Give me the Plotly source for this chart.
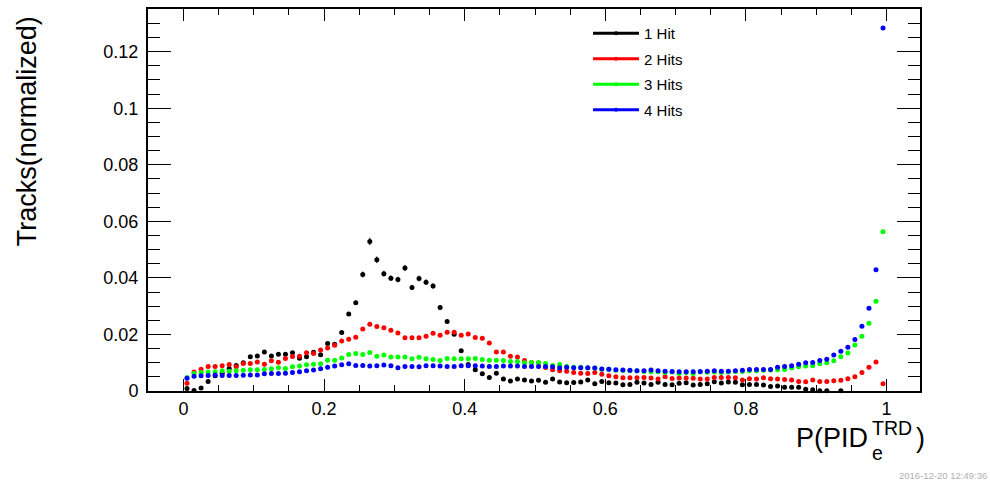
import numpy as np
import plotly.graph_objects as go

# ---------------- data ----------------
n_bins = 100
bin_centers = (np.arange(n_bins) + 0.5) / n_bins

hits1 = [0.0009, 0.0002, 0.0011, 0.0034, 0.0054, 0.0063, 0.0080, 0.0090, 0.0100, 0.0121,
         0.0124, 0.0138, 0.0124, 0.0130, 0.0130, 0.0135, 0.0116, 0.0121, 0.0137, 0.0128,
         0.0168, 0.0165, 0.0207, 0.0272, 0.0312, 0.0412, 0.0529, 0.0464, 0.0415, 0.0399,
         0.0394, 0.0435, 0.0366, 0.0398, 0.0385, 0.0371, 0.0295, 0.0246, 0.0201, 0.0142,
         0.0094, 0.0075, 0.0061, 0.0048, 0.0063, 0.0042, 0.0035, 0.0042, 0.0039, 0.0035,
         0.0038, 0.0031, 0.0042, 0.0032, 0.0029, 0.0030, 0.0032, 0.0039, 0.0026, 0.0034,
         0.0029, 0.0028, 0.0022, 0.0023, 0.0031, 0.0028, 0.0023, 0.0031, 0.0023, 0.0022,
         0.0027, 0.0029, 0.0021, 0.0023, 0.0026, 0.0033, 0.0028, 0.0032, 0.0031, 0.0022,
         0.0023, 0.0023, 0.0021, 0.0016, 0.0018, 0.0013, 0.0013, 0.0013, 0.0006, 0.0004,
         0.0001, 0.0001, None, 0.0001, None, None, None, None, None, None]

hits2 = [0.0027, 0.0067, 0.0077, 0.0087, 0.0087, 0.0089, 0.0094, 0.0086, 0.0097, 0.0097,
         0.0103, 0.0095, 0.0107, 0.0102, 0.0115, 0.0122, 0.0123, 0.0135, 0.0133, 0.0145,
         0.0152, 0.0162, 0.0177, 0.0183, 0.0190, 0.0219, 0.0236, 0.0228, 0.0224, 0.0215,
         0.0205, 0.0188, 0.0188, 0.0188, 0.0194, 0.0204, 0.0197, 0.0208, 0.0208, 0.0197,
         0.0202, 0.0189, 0.0187, 0.0170, 0.0138, 0.0138, 0.0123, 0.0120, 0.0108, 0.0101,
         0.0100, 0.0083, 0.0075, 0.0072, 0.0070, 0.0065, 0.0063, 0.0062, 0.0065, 0.0059,
         0.0054, 0.0050, 0.0047, 0.0047, 0.0047, 0.0048, 0.0046, 0.0042, 0.0050, 0.0044,
         0.0046, 0.0046, 0.0045, 0.0042, 0.0042, 0.0048, 0.0048, 0.0048, 0.0047, 0.0039,
         0.0043, 0.0042, 0.0047, 0.0043, 0.0042, 0.0041, 0.0039, 0.0034, 0.0033, 0.0039,
         0.0034, 0.0034, 0.0036, 0.0038, 0.0043, 0.0050, 0.0065, 0.0084, 0.0103, 0.0026]

hits3 = [0.0048, 0.0062, 0.0065, 0.0067, 0.0068, 0.0072, 0.0070, 0.0072, 0.0073, 0.0075,
         0.0075, 0.0076, 0.0079, 0.0082, 0.0080, 0.0086, 0.0088, 0.0093, 0.0095, 0.0096,
         0.0109, 0.0109, 0.0117, 0.0129, 0.0133, 0.0129, 0.0136, 0.0123, 0.0127, 0.0120,
         0.0120, 0.0120, 0.0114, 0.0119, 0.0114, 0.0111, 0.0108, 0.0115, 0.0114, 0.0114,
         0.0114, 0.0115, 0.0111, 0.0109, 0.0109, 0.0108, 0.0104, 0.0104, 0.0100, 0.0101,
         0.0101, 0.0097, 0.0090, 0.0094, 0.0087, 0.0084, 0.0084, 0.0081, 0.0081, 0.0077,
         0.0077, 0.0073, 0.0073, 0.0072, 0.0072, 0.0069, 0.0068, 0.0068, 0.0065, 0.0067,
         0.0062, 0.0065, 0.0062, 0.0067, 0.0066, 0.0067, 0.0065, 0.0067, 0.0069, 0.0069,
         0.0072, 0.0072, 0.0073, 0.0074, 0.0075, 0.0076, 0.0081, 0.0086, 0.0088, 0.0089,
         0.0096, 0.0100, 0.0107, 0.0121, 0.0134, 0.0163, 0.0194, 0.0240, 0.0317, 0.0563]

hits4 = [0.0045, 0.0052, 0.0054, 0.0055, 0.0057, 0.0055, 0.0055, 0.0055, 0.0056, 0.0057,
         0.0057, 0.0061, 0.0062, 0.0062, 0.0063, 0.0065, 0.0068, 0.0072, 0.0074, 0.0079,
         0.0084, 0.0088, 0.0093, 0.0096, 0.0090, 0.0090, 0.0088, 0.0089, 0.0092, 0.0089,
         0.0082, 0.0087, 0.0087, 0.0086, 0.0089, 0.0089, 0.0088, 0.0087, 0.0087, 0.0089,
         0.0089, 0.0089, 0.0088, 0.0087, 0.0087, 0.0088, 0.0088, 0.0088, 0.0087, 0.0087,
         0.0087, 0.0087, 0.0086, 0.0082, 0.0084, 0.0082, 0.0082, 0.0082, 0.0081, 0.0078,
         0.0077, 0.0075, 0.0074, 0.0073, 0.0072, 0.0072, 0.0074, 0.0072, 0.0070, 0.0069,
         0.0068, 0.0068, 0.0068, 0.0069, 0.0070, 0.0072, 0.0070, 0.0070, 0.0072, 0.0073,
         0.0076, 0.0076, 0.0076, 0.0076, 0.0084, 0.0087, 0.0089, 0.0095, 0.0100, 0.0101,
         0.0108, 0.0112, 0.0127, 0.0141, 0.0155, 0.0182, 0.0229, 0.0293, 0.0429, 0.1284]

series_names = ["1 Hit", "2 Hits", "3 Hits", "4 Hits"]
series_values = [hits1, hits2, hits3, hits4]
series_colors = ["#000000", "#ff0000", "#00ff00", "#0000ff"]
series_show_errors = [True, False, False, False]

x_tick_vals = [0, 0.2, 0.4, 0.6, 0.8, 1.0]
x_tick_text = ["0", "0.2", "0.4", "0.6", "0.8", "1"]
y_tick_vals = [0, 0.02, 0.04, 0.06, 0.08, 0.10, 0.12]
y_tick_text = ["0", "0.02", "0.04", "0.06", "0.08", "0.1", "0.12"]

FONT = "Liberation Sans, Arial, Helvetica, sans-serif"

fig = go.Figure()

for name, vals, col, err in zip(series_names, series_values, series_colors, series_show_errors):
    fig.add_trace(go.Scatter(
        x=bin_centers, y=vals, mode="markers", name=name,
        marker=dict(color=col, size=5, line=dict(width=0)),
        error_y=dict(type="percent", value=2.5, color=col, thickness=1, width=0, visible=err),
        showlegend=False, cliponaxis=False,
    ))

# legend entries (line + marker like ROOT's "lp" style)
for i, (name, col) in enumerate(zip(series_names, series_colors)):
    fig.add_trace(go.Scatter(
        x=[None], y=[None], mode="lines+markers", name=name,
        line=dict(color=col, width=3), marker=dict(color=col, size=4),
        legendgroup=f"g{i}", showlegend=True,
    ))

fig.update_layout(
    width=990, height=483,
    margin=dict(l=148, r=70, t=7, b=92),
    paper_bgcolor="white", plot_bgcolor="white",
    font=dict(family=FONT, color="black"),
    showlegend=True,
    legend=dict(
        x=0.570, y=0.979, xanchor="left", yanchor="top",
        bgcolor="rgba(0,0,0,0)", borderwidth=0,
        font=dict(family=FONT, size=15, color="black"),
        tracegroupgap=3, itemwidth=46,
    ),
)

fig.update_xaxes(
    range=[-0.0505, 1.0476], showgrid=False, zeroline=False,
    showline=True, linecolor="black", linewidth=2, mirror="allticks",
    ticks="inside", ticklen=12, tickwidth=1, tickcolor="black",
    tickvals=x_tick_vals, ticktext=x_tick_text,
    tickfont=dict(family=FONT, size=18, color="black"),
    minor=dict(dtick=0.05, tick0=0, ticks="inside", ticklen=6, tickwidth=1, tickcolor="black"),
)
fig.update_yaxes(
    range=[0, 0.1351], showgrid=False, zeroline=False,
    showline=True, linecolor="black", linewidth=2, mirror="allticks",
    ticks="inside", ticklen=23, tickwidth=1, tickcolor="black",
    tickvals=y_tick_vals, ticktext=y_tick_text,
    tickfont=dict(family=FONT, size=18, color="black"),
    ticklabelstandoff=4,
    minor=dict(dtick=0.005, tick0=0, ticks="inside", ticklen=12, tickwidth=1, tickcolor="black"),
)

# axis titles (ROOT style: placed at the end of the axes)
fig.add_annotation(text="Tracks(normalized)", textangle=-90, xref="paper", yref="paper",
                   x=-0.1567, y=0.680, xanchor="center", yanchor="middle", showarrow=False,
                   font=dict(family=FONT, size=27, color="black"))
fig.add_annotation(text="P(PID", xref="paper", yref="paper", x=(869 - 148) / 772, y=1 - (438 - 7) / 384,
                   xanchor="right", yanchor="middle", showarrow=False, borderpad=0,
                   font=dict(family=FONT, size=27, color="black"))
# stacked superscript / subscript, as ROOT draws #it{e}^{TRD}
fig.add_annotation(text="TRD<br>e", xref="paper", yref="paper", x=(871 - 148) / 772, y=1 - (441 - 7) / 384,
                   xanchor="left", yanchor="middle", align="left", showarrow=False, borderpad=0,
                   font=dict(family=FONT, size=19.5, color="black"))
fig.add_annotation(text=")", xref="paper", yref="paper", x=(915 - 148) / 772, y=1 - (438 - 7) / 384,
                   xanchor="left", yanchor="middle", showarrow=False, borderpad=0,
                   font=dict(family=FONT, size=27, color="black"))
fig.add_annotation(text="2016-12-20 12:49:36", xref="paper", yref="paper",
                   x=(989 - 148) / 772, y=1 - (476 - 7) / 384,
                   xanchor="right", yanchor="middle", showarrow=False,
                   font=dict(family=FONT, size=9.5, color="#b0b0b0"))

fig.write_html("out.html", config={"displayModeBar": False},
               post_script="document.body.style.margin='0px';")
